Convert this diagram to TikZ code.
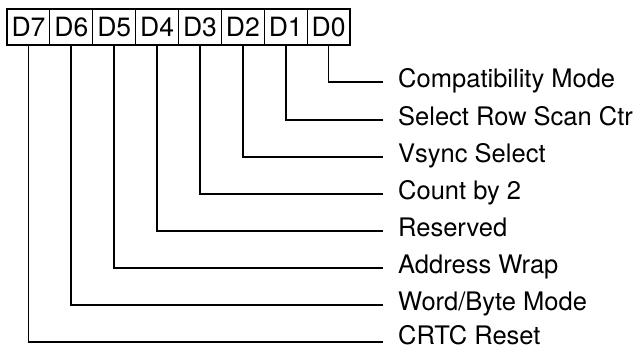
\documentclass[tikz,border=0pt]{standalone}
\usepackage{fontspec}
\setmainfont{TeX Gyre Heros}
\begin{document}
\begin{tikzpicture}[x=1pt,y=-1pt,
  bitbox/.style={draw,line width=1.2pt,minimum width=42.875pt,minimum height=36pt,inner sep=0pt,
    font=\fontsize{26.5}{26.5}\selectfont},
  fieldlabel/.style={anchor=west,inner xsep=15.5pt,inner ysep=0pt,text height=10pt,text depth=0pt,
    font=\fontsize{25.5}{25.5}\selectfont},
  wire/.style={line width=1.8pt}]
\useasboundingbox (0,0) rectangle (642,351);
\foreach \n/\i in {7/0,6/1,5/2,4/3,3/4,2/5,1/6,0/7}{
  \node[bitbox] (b\n) at ({7+21.4375+\i*42.875},27) {D\n};
}
\node[fieldlabel] (l0) at (382.5,82) {Compatibility Mode};
\node[fieldlabel] (l1) at (382.5,120) {Select Row Scan Ctr};
\node[fieldlabel] (l2) at (382.5,157) {Vsync Select};
\node[fieldlabel] (l3) at (382.5,194) {Count by 2};
\node[fieldlabel] (l4) at (382.5,231) {Reserved};
\node[fieldlabel] (l5) at (382.5,268) {Address Wrap};
\node[fieldlabel] (l6) at (382.5,305) {Word/Byte Mode};
\node[fieldlabel,text height=5pt] (l7) at (382.5,342) {CRTC Reset};
\foreach \n in {0,...,7}{
  \draw[wire] (b\n.south) |- (l\n.west);
}
\end{tikzpicture}
\end{document}
